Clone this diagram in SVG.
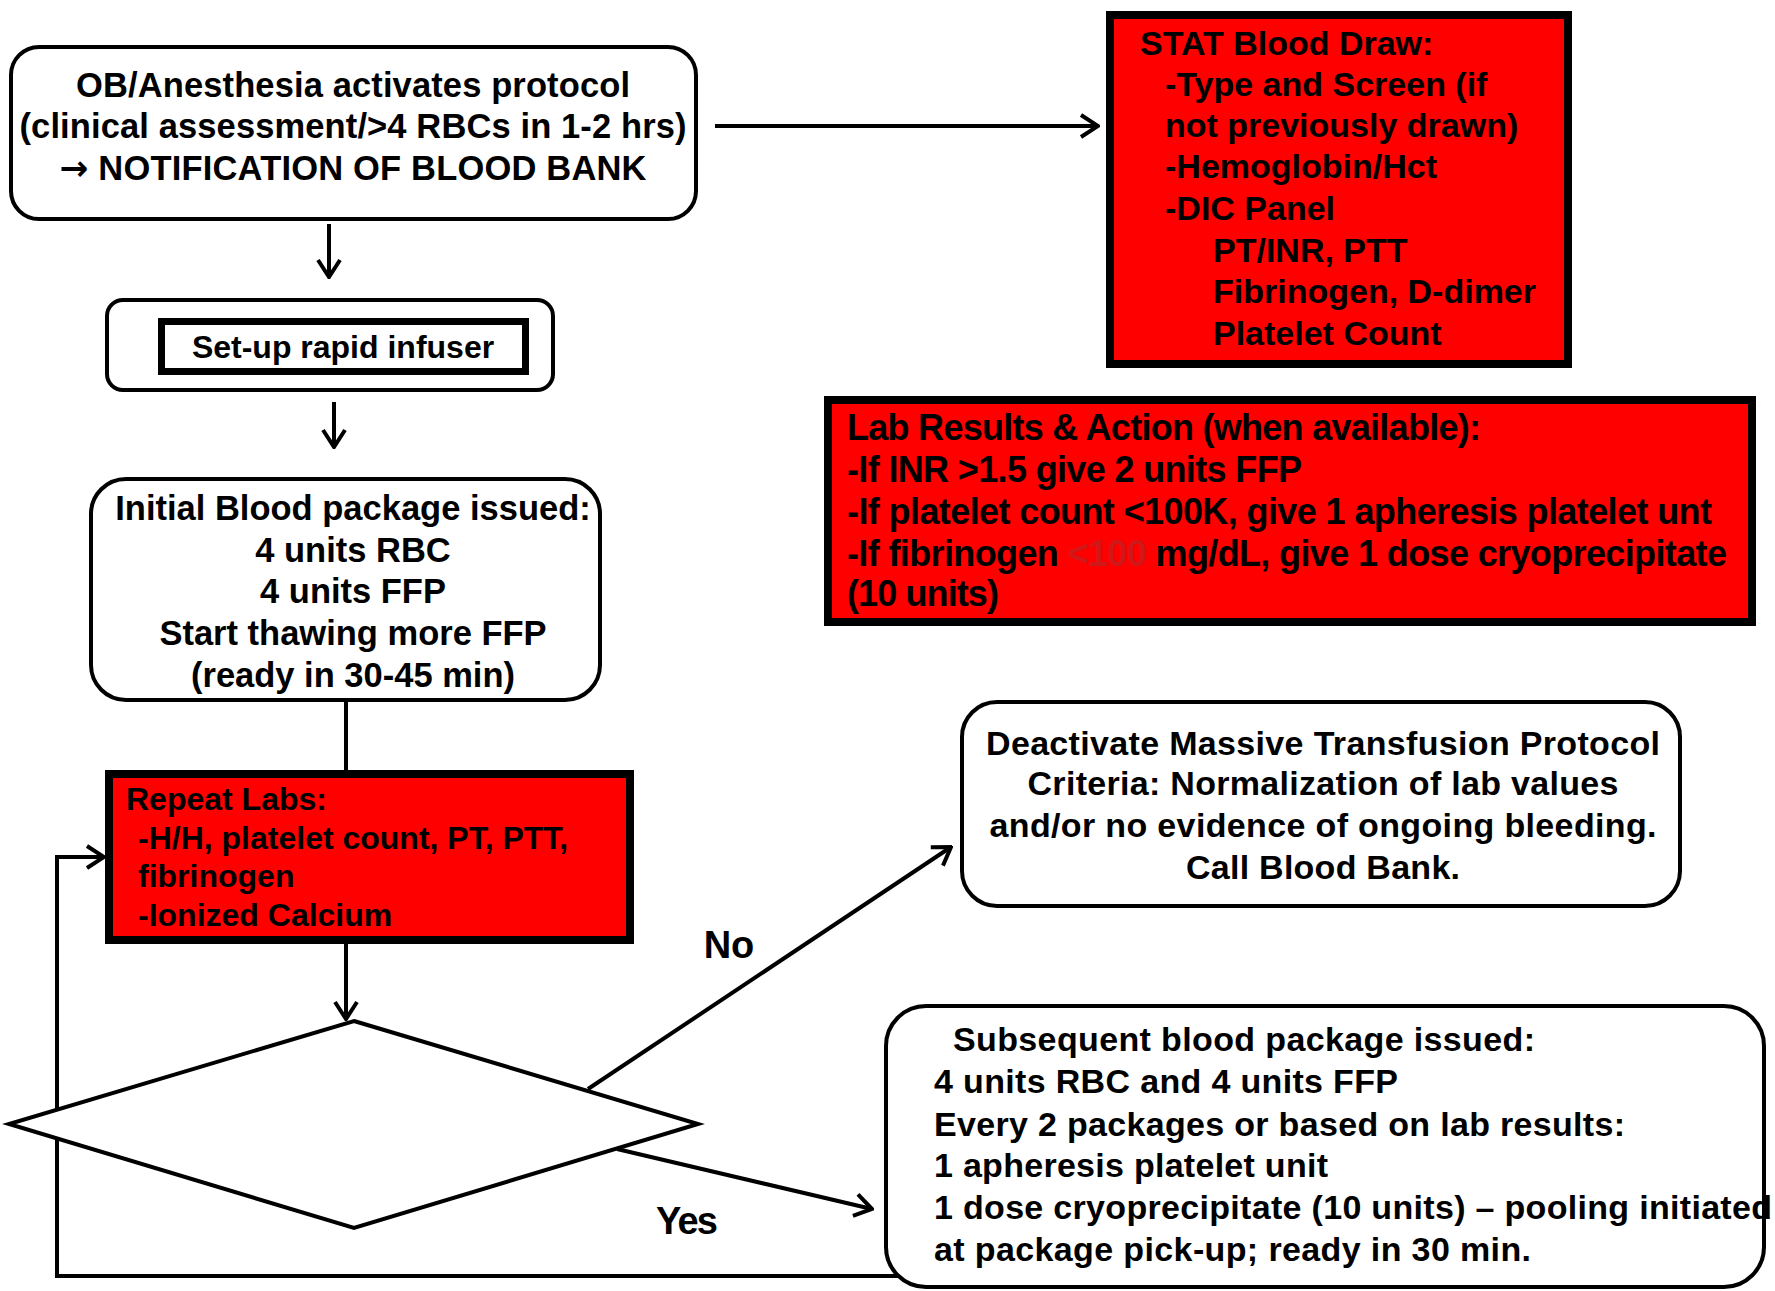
<svg xmlns="http://www.w3.org/2000/svg" width="1775" height="1291" viewBox="0 0 1775 1291">
<style>
text{font-family:"Liberation Sans",Arial,sans-serif;font-weight:bold;fill:#000}
.c{text-anchor:middle}
.n{font-family:"Liberation Sans Narrow","Liberation Sans",Arial,sans-serif}
.rb{fill:#fff;stroke:#000;stroke-width:4}
.red{fill:#ff0000;stroke:#000;stroke-width:8}
.ln{fill:none;stroke:#000;stroke-width:4}
</style>
<defs>
<marker id="ah" viewBox="0 0 22 26" refX="20" refY="13" markerWidth="22" markerHeight="26" markerUnits="userSpaceOnUse" orient="auto">
<path d="M3,2 L20,13 L3,24" fill="none" stroke="#000" stroke-width="4"/>
</marker>
</defs>
<g id="connectors">
<line class="ln" x1="715" y1="126" x2="1098" y2="126" marker-end="url(#ah)"/>
<line class="ln" x1="329" y1="224" x2="329" y2="277" marker-end="url(#ah)"/>
<line class="ln" x1="334" y1="402" x2="334" y2="447" marker-end="url(#ah)"/>
<line class="ln" x1="346" y1="702" x2="346" y2="770"/>
<line class="ln" x1="346" y1="944" x2="346" y2="1019" marker-end="url(#ah)"/>
<line class="ln" x1="588" y1="1089" x2="951" y2="847" marker-end="url(#ah)"/>
<line class="ln" x1="617" y1="1149" x2="872" y2="1209" marker-end="url(#ah)"/>
<polyline class="ln" points="900,1276 57,1276 57,857 104,857" marker-end="url(#ah)"/>
<text x="729" y="958" class="c" font-size="38">No</text>
<text x="687" y="1234" class="c n" font-size="38" textLength="62">Yes</text>
</g>
<g id="activate">
<rect class="rb" x="11" y="47" width="685" height="172" rx="28"/>
<text class="c" x="353" y="97" font-size="34.5" textLength="554">OB/Anesthesia activates protocol</text>
<text class="c" x="353" y="138" font-size="34.5" textLength="667">(clinical assessment/&gt;4 RBCs in 1-2 hrs)</text>
<text class="c" x="353" y="180" font-size="34.5" textLength="587"><tspan font-family="DejaVu Sans,sans-serif">→</tspan> NOTIFICATION OF BLOOD BANK</text>
</g>
<g id="stat">
<rect class="red" x="1110" y="15" width="458" height="349"/>
<g font-size="34">
<text x="1140" y="55">STAT Blood Draw:</text>
<text x="1165" y="96">-Type and Screen (if</text>
<text x="1165" y="137">not previously drawn)</text>
<text x="1165" y="178">-Hemoglobin/Hct</text>
<text x="1165" y="220">-DIC Panel</text>
<text x="1213" y="262">PT/INR, PTT</text>
<text x="1213" y="303">Fibrinogen, D-dimer</text>
<text x="1213" y="345">Platelet Count</text>
</g>
</g>
<g id="setup">
<rect class="rb" x="107" y="300" width="446" height="90" rx="16"/>
<rect x="161.5" y="321.5" width="364" height="50" fill="#fff" stroke="#000" stroke-width="7"/>
<text class="c" x="343" y="358" font-size="32">Set-up rapid infuser</text>
</g>
<g id="initial">
<rect class="rb" x="91" y="479" width="509" height="221" rx="35"/>
<g font-size="34.5">
<text class="c" x="353" y="520">Initial Blood package issued:</text>
<text class="c" x="353" y="562">4 units RBC</text>
<text class="c" x="353" y="603">4 units FFP</text>
<text class="c" x="353" y="645">Start thawing more FFP</text>
<text class="c" x="353" y="687">(ready in 30-45 min)</text>
</g>
</g>
<g id="labresults">
<rect class="red" x="828" y="400" width="924" height="222"/>
<g font-size="36">
<text class="n" x="847" y="440" textLength="634">Lab Results &amp; Action (when available):</text>
<text class="n" x="847" y="482" textLength="455">-If INR &gt;1.5 give 2 units FFP</text>
<text class="n" x="847" y="524" textLength="865">-If platelet count &lt;100K, give 1 apheresis platelet unt</text>
<text class="n" x="847" y="566" textLength="880">-If fibrinogen <tspan fill="#d01818">&lt;100</tspan> mg/dL, give 1 dose cryoprecipitate</text>
<text class="n" x="847" y="606" textLength="152">(10 units)</text>
</g>
</g>
<g id="repeatlabs">
<rect class="red" x="109" y="774" width="521" height="166"/>
<g font-size="32">
<text x="126" y="810">Repeat Labs:</text>
<text x="138" y="849">-H/H, platelet count, PT, PTT,</text>
<text x="138" y="887">fibrinogen</text>
<text x="138" y="926">-Ionized Calcium</text>
</g>
</g>
<g id="decision">
<polygon points="354,1021 698,1124 354,1228 9,1124" fill="#fff" stroke="#000" stroke-width="4"/>
</g>
<g id="deactivate">
<rect class="rb" x="962" y="702" width="718" height="204" rx="35"/>
<g font-size="34">
<text class="c n" x="1323" y="755" textLength="674">Deactivate Massive Transfusion Protocol</text>
<text class="c n" x="1323" y="795" textLength="591">Criteria: Normalization of lab values</text>
<text class="c n" x="1323" y="837" textLength="667">and/or no evidence of ongoing bleeding.</text>
<text class="c n" x="1323" y="879" textLength="274">Call Blood Bank.</text>
</g>
</g>
<g id="subsequent">
<rect class="rb" x="886" y="1006" width="878" height="281" rx="40"/>
<g font-size="34">
<text class="n" x="953" y="1051" textLength="582">Subsequent blood package issued:</text>
<text class="n" x="934" y="1093" textLength="464">4 units RBC and 4 units FFP</text>
<text class="n" x="934" y="1136" textLength="691">Every 2 packages or based on lab results:</text>
<text class="n" x="934" y="1177" textLength="394">1 apheresis platelet unit</text>
<text class="n" x="934" y="1219" textLength="838">1 dose cryoprecipitate (10 units) – pooling initiated</text>
<text class="n" x="934" y="1261" textLength="597">at package pick-up; ready in 30 min.</text>
</g>
</g>
</svg>
